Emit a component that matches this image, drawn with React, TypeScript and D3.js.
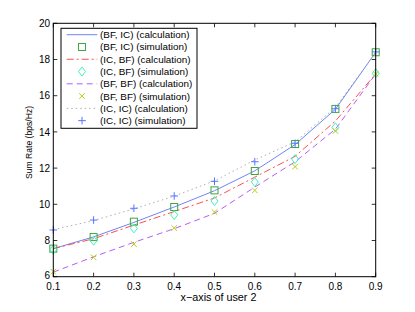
import { useMemo } from 'react';
import * as d3 from 'd3';

// x-axis of user 2
const xValues = [0.1, 0.2, 0.3, 0.4, 0.5, 0.6, 0.7, 0.8, 0.9];

// calculation curves
const bfIcCalc = [7.55, 8.2, 9.0, 9.85, 10.75, 11.85, 13.3, 15.25, 18.4];
const icBfCalc = [7.55, 8.1, 8.85, 9.6, 10.35, 11.5, 12.65, 14.6, 17.2];
const bfBfCalc = [6.25, 7.1, 7.9, 8.65, 9.5, 10.95, 12.35, 14.15, 17.2];
const icIcCalc = [8.6, 9.1, 9.75, 10.45, 11.3, 12.45, 13.45, 15.35, 18.4];

// simulation points
const bfIcSim = [7.55, 8.19, 9.04, 9.85, 10.77, 11.84, 13.33, 15.27, 18.4];
const icBfSim = [7.5, 7.99, 8.67, 9.41, 10.18, 11.23, 12.5, 14.25, 17.24];
const bfBfSim = [6.28, 7.07, 7.8, 8.69, 9.57, 10.77, 12.08, 14.05, 17.2];
const icIcSim = [8.58, 9.13, 9.78, 10.46, 11.27, 12.35, 13.37, 15.28, 18.42];

const xTicks = [0.1, 0.2, 0.3, 0.4, 0.5, 0.6, 0.7, 0.8, 0.9];
const yTicks = [6, 8, 10, 12, 14, 16, 18, 20];

const legendLabels = [
  '(BF, IC) (calculation)',
  '(BF, IC) (simulation)',
  '(IC, BF) (calculation)',
  '(IC, BF) (simulation)',
  '(BF, BF) (calculation)',
  '(BF, BF) (simulation)',
  '(IC, IC) (calculation)',
  '(IC, IC) (simulation)',
];

type Marker = 'square' | 'diamond' | 'x' | 'plus';

const lineStyles = [
  { values: bfIcCalc, color: '#6f86f2', dash: '' },
  { values: icBfCalc, color: '#ff4d4d', dash: '7,3,2,3' },
  { values: bfBfCalc, color: '#b95cf5', dash: '6,4' },
  { values: icIcCalc, color: '#b0b0b0', dash: '1.5,3' },
];

const markerStyles: { values: number[]; color: string; shape: Marker }[] = [
  { values: bfIcSim, color: '#3fa63f', shape: 'square' },
  { values: icBfSim, color: '#44f0c0', shape: 'diamond' },
  { values: bfBfSim, color: '#b8cc1a', shape: 'x' },
  { values: icIcSim, color: '#5577ff', shape: 'plus' },
];

const font = 'Liberation Sans, Arial, Helvetica, sans-serif';

function MarkerShape({ shape, x, y, color }: { shape: Marker; x: number; y: number; color: string }) {
  if (shape === 'square') {
    return <rect x={x - 3.5} y={y - 3.5} width={7} height={7} fill="none" stroke={color} strokeWidth={1} />;
  }
  if (shape === 'diamond') {
    return (
      <path
        d={`M${x},${y - 4.5}L${x + 3.5},${y}L${x},${y + 4.5}L${x - 3.5},${y}Z`}
        fill="none"
        stroke={color}
        strokeWidth={1}
      />
    );
  }
  if (shape === 'x') {
    return (
      <path
        d={`M${x - 2.8},${y - 2.8}L${x + 2.8},${y + 2.8}M${x - 2.8},${y + 2.8}L${x + 2.8},${y - 2.8}`}
        stroke={color}
        strokeWidth={1}
      />
    );
  }
  return (
    <path d={`M${x - 3.8},${y}L${x + 3.8},${y}M${x},${y - 3.8}L${x},${y + 3.8}`} stroke={color} strokeWidth={1} />
  );
}

export default function App() {
  const width = 415;
  const height = 312;
  const left = 53.3;
  const right = 375.7;
  const top = 23.3;
  const bottom = 276.7;

  const xScale = useMemo(() => d3.scaleLinear().domain([0.1, 0.9]).range([left, right]), []);
  const yScale = useMemo(() => d3.scaleLinear().domain([6, 20]).range([bottom, top]), []);

  const line = d3
    .line<number>()
    .x((_, i) => xScale(xValues[i]))
    .y((d) => yScale(d));

  const tickLen = 4;

  // legend layout
  const legX = 61;
  const legY = 28.3;
  const legW = 136;
  const legH = 100;
  const rowY0 = 34.7;
  const rowStep = 12.28;

  return (
    <svg
      width={width}
      height={height}
      style={{ position: 'absolute', left: 0, top: 0, background: '#fff' }}
      fontFamily={font}
    >
      <rect x={0} y={0} width={width} height={height} fill="#fff" />

      {/* data lines */}
      {lineStyles.map((s, i) => (
        <path
          key={`l${i}`}
          d={line(s.values) || ''}
          fill="none"
          stroke={s.color}
          strokeWidth={1}
          strokeDasharray={s.dash || undefined}
        />
      ))}

      {/* simulation markers */}
      {markerStyles.map((s, i) =>
        s.values.map((v, j) => (
          <MarkerShape key={`m${i}-${j}`} shape={s.shape} x={xScale(xValues[j])} y={yScale(v)} color={s.color} />
        ))
      )}

      {/* axes box */}
      <rect x={left} y={top} width={right - left} height={bottom - top} fill="none" stroke="#000" strokeWidth={1} />

      {/* x ticks */}
      {xTicks.map((t) => (
        <g key={`xt${t}`}>
          <line x1={xScale(t)} x2={xScale(t)} y1={bottom} y2={bottom - tickLen} stroke="#000" strokeWidth={0.8} />
          <line x1={xScale(t)} x2={xScale(t)} y1={top} y2={top + tickLen} stroke="#000" strokeWidth={0.8} />
          <text x={xScale(t)} y={290} textAnchor="middle" fontSize={10} fill="#000">
            {t.toFixed(1)}
          </text>
        </g>
      ))}

      {/* y ticks */}
      {yTicks.map((t) => (
        <g key={`yt${t}`}>
          <line x1={left} x2={left + tickLen} y1={yScale(t)} y2={yScale(t)} stroke="#000" strokeWidth={0.8} />
          <line x1={right} x2={right - tickLen} y1={yScale(t)} y2={yScale(t)} stroke="#000" strokeWidth={0.8} />
          <text x={50} y={yScale(t) + (t === 6 ? 2.6 : 3.6)} textAnchor="end" fontSize={10} fill="#000">
            {t}
          </text>
        </g>
      ))}

      {/* axis labels */}
      <text x={218.5} y={301} textAnchor="middle" fontSize={10.8} fill="#000">
        x−axis of user 2
      </text>
      <text
        transform={`translate(31.5, 142.5) rotate(-90)`}
        textAnchor="middle"
        fontSize={8.6}
        fill="#000"
      >
        Sum Rate (bps/Hz)
      </text>

      {/* legend */}
      <rect x={legX} y={legY} width={legW} height={legH} fill="#fff" stroke="#000" strokeWidth={1} />
      {legendLabels.map((label, i) => {
        const y = rowY0 + i * rowStep;
        const isLine = i % 2 === 0;
        const k = Math.floor(i / 2);
        return (
          <g key={`lg${i}`}>
            {isLine ? (
              <line
                x1={66.7}
                x2={97.3}
                y1={y}
                y2={y}
                stroke={lineStyles[k].color}
                strokeWidth={1}
                strokeDasharray={lineStyles[k].dash || undefined}
              />
            ) : (
              <MarkerShape shape={markerStyles[k].shape} x={82} y={y} color={markerStyles[k].color} />
            )}
            <text x={100} y={y + 3.5} fontSize={9.9} fill="#000">
              {label}
            </text>
          </g>
        );
      })}
    </svg>
  );
}
